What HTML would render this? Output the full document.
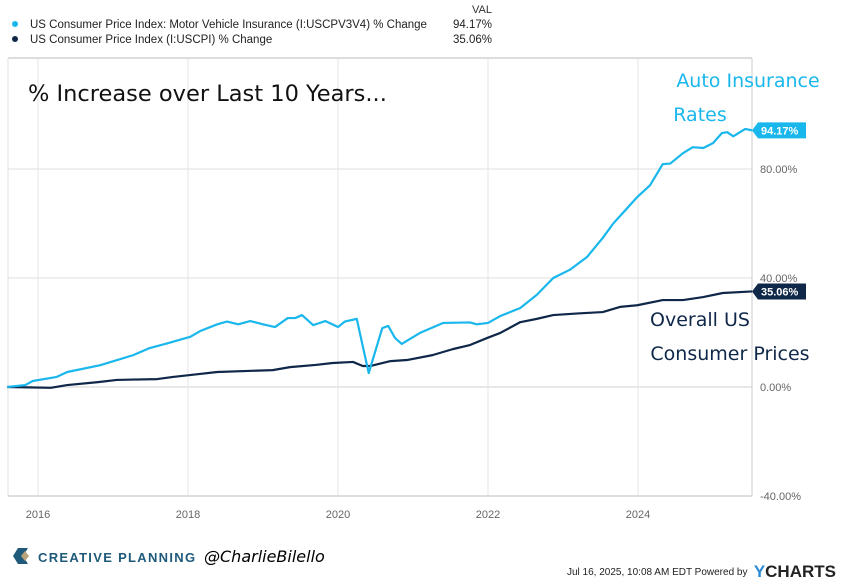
<!DOCTYPE html>
<html><head><meta charset="utf-8"><style>
body{margin:0;background:#fff;width:841px;height:578px;overflow:hidden;font-family:"Liberation Sans",sans-serif}
svg{display:block}
</style></head><body>
<svg id="chart" width="841" height="578">
<g>
<text x="492" y="13" font-size="11" text-anchor="end" fill="#333">VAL</text>
<circle cx="15" cy="24" r="3" fill="#19b7ec"/>
<text x="30" y="28" font-size="11.5" fill="#222">US Consumer Price Index: Motor Vehicle Insurance (I:USCPV3V4) % Change</text>
<text x="492" y="28" font-size="11.5" text-anchor="end" fill="#222">94.17%</text>
<circle cx="15" cy="39" r="3" fill="#0f2748"/>
<text x="30" y="43" font-size="11.5" fill="#222">US Consumer Price Index (I:USCPI) % Change</text>
<text x="492" y="43" font-size="11.5" text-anchor="end" fill="#222">35.06%</text>
</g>
<g id="grid"></g>
<line x1="8" y1="58" x2="752" y2="58" stroke="#ddd" stroke-width="2"/>
<line x1="8" y1="58" x2="8" y2="496" stroke="#e2e2e2"/>
<line x1="752" y1="58" x2="752" y2="496" stroke="#ccc"/>
<g id="axes"></g>
<g id="series"></g>
<text x="28" y="101" font-size="22.5" fill="#111" font-family="DejaVu Sans,sans-serif">% Increase over Last 10 Years...</text>
<text x="748" y="87" font-size="19" fill="#19b7ec" text-anchor="middle" font-family="DejaVu Sans,sans-serif">Auto Insurance</text>
<text x="700" y="121" font-size="19" fill="#19b7ec" text-anchor="middle" font-family="DejaVu Sans,sans-serif">Rates</text>
<text x="700" y="326" font-size="19" fill="#0f2748" text-anchor="middle" font-family="DejaVu Sans,sans-serif">Overall US</text>
<text x="730" y="360" font-size="19" fill="#0f2748" text-anchor="middle" font-family="DejaVu Sans,sans-serif">Consumer Prices</text>
<g>
<path d="M18 548 L28 548 L23 556 L28 564 L18 564 L13 556 Z" fill="#1f5a7a"/>
<path d="M21 556 L25 551 L29 556 L25 561 Z" fill="#b9a37c"/>
<text x="38" y="562" font-size="13" font-weight="bold" fill="#1f5a7a" letter-spacing="1.3">CREATIVE PLANNING</text>
<text x="204" y="562" font-size="16" fill="#000" font-style="italic" font-family="DejaVu Sans,sans-serif">@CharlieBilello</text>
<text x="567" y="575" font-size="10" fill="#222">Jul 16, 2025, 10:08 AM EDT Powered by</text>
<text x="836" y="577" font-size="17" font-weight="bold" fill="#222" text-anchor="end"><tspan fill="#2a8ad6">Y</tspan>CHARTS</text>
</g>
</svg>
<script>
const ins_dates=[2015.59,2015.83,2015.93,2016.25,2016.39,2016.83,2017.27,2017.49,2017.72,2018.03,2018.16,2018.39,2018.52,2018.67,2018.83,2019.0,2019.16,2019.33,2019.43,2019.52,2019.67,2019.83,2020.0,2020.09,2020.25,2020.41,2020.59,2020.67,2020.76,2020.85,2021.09,2021.4,2021.76,2021.85,2022.0,2022.16,2022.43,2022.65,2022.87,2023.09,2023.32,2023.53,2023.67,2023.99,2024.16,2024.33,2024.43,2024.6,2024.73,2024.87,2025.0,2025.12,2025.19,2025.27,2025.43,2025.52];
const ins_values=[0,0.7,2.2,3.7,5.5,8,11.7,14.3,16,18.4,20.5,23,24,23,24.2,23,22,25.3,25.3,26.4,22.7,24.2,22,24,25,5.1,21.6,22.4,18,15.8,19.8,23.5,23.7,23,23.5,26,29,33.8,40,43,47.7,54.7,60,69.7,74,81.8,82,85.8,88,87.7,89.5,93.2,93.5,92,94.7,94.17];
const cpi_dates=[2015.59,2016.17,2016.39,2016.8,2017.05,2017.59,2017.8,2018.1,2018.39,2018.8,2019.13,2019.36,2019.7,2019.93,2020.2,2020.33,2020.43,2020.7,2020.92,2021.26,2021.53,2021.76,2021.99,2022.16,2022.43,2022.65,2022.87,2023.2,2023.53,2023.76,2023.99,2024.33,2024.6,2024.87,2025.13,2025.52];
const cpi_values=[0,-0.3,0.7,1.8,2.6,2.9,3.7,4.6,5.5,5.9,6.2,7.3,8.1,8.8,9.2,7.7,7.7,9.5,9.9,11.7,13.9,15.4,18,19.8,23.8,25,26.4,27,27.5,29.4,30,31.9,31.9,33,34.5,35.06];
const y_ticks=[80,40,0,-40];
const y_tick_labels=["80.00%","40.00%","0.00%","-40.00%"];
const x_ticks=[2016,2018,2020,2022,2024];
const x_tick_labels=["2016","2018","2020","2022","2024"];
const end_labels=["94.17%","35.06%"];

const NS="http://www.w3.org/2000/svg";
const X=d=>38+(d-2016)*75;
const Y=v=>387-v*109/40;
function mk(tag,attrs,parent){const e=document.createElementNS(NS,tag);for(const k in attrs)e.setAttribute(k,attrs[k]);parent.appendChild(e);return e;}
const grid=document.getElementById('grid'),axes=document.getElementById('axes'),series=document.getElementById('series');
y_ticks.forEach((t,i)=>{
  const l=mk('line',{x1:8,x2:752,y1:Y(t),y2:Y(t),stroke:t===0?'#e8e8e8':'#efefef','stroke-width':2},grid);
  
  
  const tx=mk('text',{x:760,y:Y(t)+4,'font-size':11,fill:'#666'},axes);
  tx.textContent=y_tick_labels[i];
  
  
});
x_ticks.forEach((t,i)=>{
  const l=mk('line',{x1:X(t),x2:X(t),y1:58,y2:496,stroke:'#e6e6e6'},grid);
  
  
  const tx=mk('text',{x:X(t),y:518,'font-size':11,fill:'#666','text-anchor':'middle'},axes);
  tx.textContent=x_tick_labels[i];
  
  
});
const ab=mk('line',{x1:8,x2:752,y1:496,y2:496,stroke:'#ccc'},axes);


function line(ds,vs,color,name){
  const p=mk('polyline',{points:ds.map((d,i)=>X(d)+','+Y(vs[i])).join(' '),fill:'none',stroke:color,'stroke-width':2.2,'stroke-linejoin':'round'},series);
  
  
}
line(cpi_dates,cpi_values,'#0f2748','cpi-line');
line(ins_dates,ins_values,'#19b7ec','insurance-line');
function tag(v,color,txt,name){
  const y=Y(v);
  const g=mk('g',{},series);
  
  
  mk('path',{d:`M752 ${y} L758 ${y-8} L806 ${y-8} L806 ${y+8} L758 ${y+8} Z`,fill:color},g);
  const t=mk('text',{x:761,y:y+4,'font-size':11,'font-weight':'bold',fill:'#fff'},g);
  t.textContent=txt;
}
tag(ins_values[ins_values.length-1],'#19b7ec',end_labels[0],'end-label-insurance');
tag(cpi_values[cpi_values.length-1],'#0f2748',end_labels[1],'end-label-cpi');
</script>
</body></html>
